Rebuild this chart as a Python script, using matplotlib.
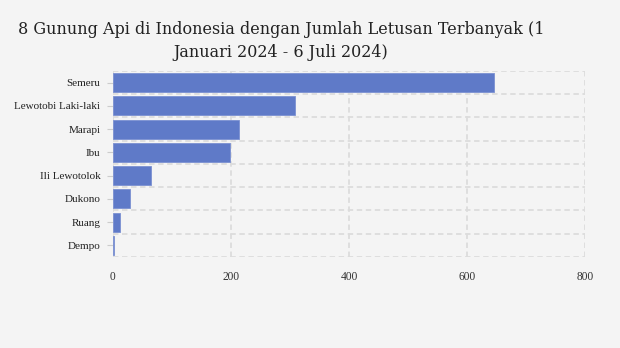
import matplotlib
matplotlib.use("Agg")
import matplotlib.pyplot as plt
import numpy as np

volcanoes = ["Semeru", "Lewotobi Laki-laki", "Marapi", "Ibu", "Ili Lewotolok",
             "Dukono", "Ruang", "Dempo"]
eruptions = [646, 308, 213, 198, 64, 29, 12, 2]
x_ticks = [0, 200, 400, 600, 800]

title = "8 Gunung Api di Indonesia dengan Jumlah Letusan Terbanyak (1\nJanuari 2024 - 6 Juli 2024)"

bg = "#f4f4f4"
bar_color = "#5f7ac8"
grid_color = "#dcdcdc"

fig = plt.figure(figsize=(6.2, 3.48), dpi=100, facecolor=bg)
ax = fig.add_axes([0.182, 0.2615, 0.762, 0.5345], facecolor=bg)

y = np.arange(len(volcanoes))
ax.barh(y, eruptions, height=0.82, color=bar_color, edgecolor="#7b90d2",
        linewidth=0.6, zorder=3)

ax.set_xlim(0, 800)
ax.set_ylim(len(volcanoes) - 0.5, -0.5)
ax.set_xticks(x_ticks)
ax.set_xticklabels([str(t) for t in x_ticks], fontfamily="Liberation Serif",
                   fontsize=8.3, color="#333333")
ax.set_yticks(y)
ax.set_yticklabels(volcanoes, fontfamily="Liberation Serif", fontsize=8.0,
                   color="#222222")
ax.tick_params(axis="x", length=0, pad=10)
ax.tick_params(axis="y", length=4, color="#cccccc", pad=5)

# dashed grid: verticals at ticks, horizontals at category boundaries
for xv in x_ticks:
    ax.axvline(xv, color=grid_color, linestyle=(0, (3, 2)), linewidth=1.3, zorder=1)
for b in np.arange(-0.5, len(volcanoes), 1.0):
    ax.axhline(b, color=grid_color, linestyle=(0, (3, 2)), linewidth=1.3, zorder=1)

for s in ax.spines.values():
    s.set_visible(False)

fig.text(0.453, 0.94, title, ha="center", va="top", fontfamily="DejaVu Serif",
         fontsize=11.5, color="#222222", linespacing=1.45)

fig.savefig("out.png", dpi=100, facecolor=bg)
